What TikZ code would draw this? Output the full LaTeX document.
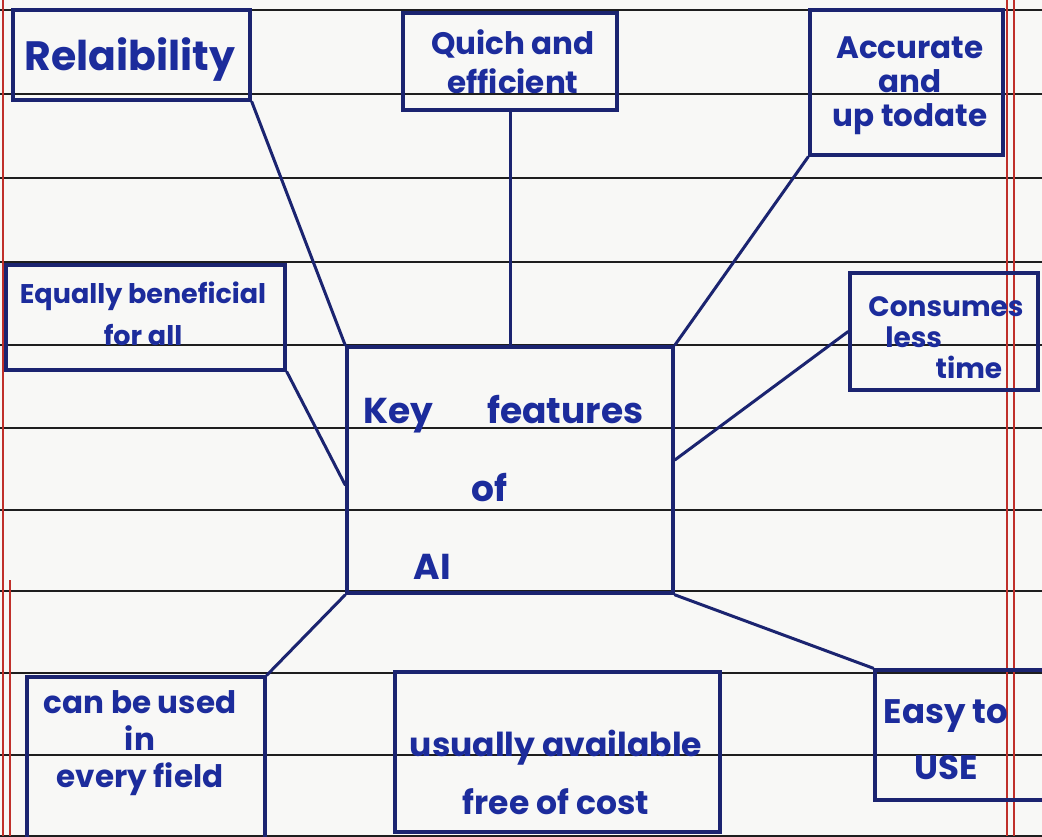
\documentclass[tikz,border=0pt]{standalone}
\usepackage{fontspec}
\setmainfont{Poppins}
\definecolor{paper}{HTML}{F8F8F6}
\definecolor{boxink}{HTML}{1B2470}
\definecolor{textink}{HTML}{1C2C9C}
\definecolor{ruleline}{HTML}{1E1E1E}
\definecolor{margin}{HTML}{C0302A}
\begin{document}
\begin{tikzpicture}[x=1pt,y=-1pt,
  rule/.style={draw=ruleline, line width=1.7pt},
  marginline/.style={draw=margin, line width=1.2pt},
  box/.style={draw=boxink, line width=3.6pt, rectangle, inner sep=0pt},
  link/.style={draw=boxink, line width=3pt, line cap=round},
  hand/.style={text=textink, align=center, inner sep=0pt},
]
\useasboundingbox (0,0) rectangle (1042,836);
\fill[paper] (0,0) rectangle (1042,836);
\begin{scope}
\clip (0,0) rectangle (1042,836);

% ruled paper
\foreach \y in {10,94,178,262,345,428,510,591,673,755,836}
  \draw[rule] (0,\y) -- (1042,\y);
\draw[marginline] (3,0) -- (3,836);
\draw[marginline] (10,580) -- (10,836);
\draw[marginline] (1007,0) -- (1007,836);
\draw[marginline] (1014,0) -- (1014,836);

% boxes
\node[box, minimum width=237pt, minimum height=90pt]  (rel)   at (131.5,55)  {};
\node[box, minimum width=214pt, minimum height=97pt]  (quick) at (510,61.5)  {};
\node[box, minimum width=193pt, minimum height=145pt] (acc)   at (906.5,82.5){};
\node[box, minimum width=188pt, minimum height=117pt] (cons)  at (944,331.5) {};
\node[box, minimum width=279pt, minimum height=105pt] (eq)    at (145.5,317.5){};
\node[box, minimum width=326pt, minimum height=246pt] (key)   at (510,470)   {};
\node[box, minimum width=238pt, minimum height=183pt] (can)   at (146,768.5) {};
\node[box, minimum width=325pt, minimum height=160pt] (usual) at (557.5,752)  {};
\node[box, minimum width=175pt, minimum height=130pt] (easy)  at (962.5,735) {};

% labels
\node[hand, font=\bfseries\fontsize{41}{44}\selectfont] (relT) at (130,60) {Relaibility};
\node[hand, font=\bfseries\fontsize{31}{39}\selectfont] (quickT) at (513,62) {Quich and\\efficient};
\node[hand, font=\bfseries\fontsize{31}{34}\selectfont] (accT) at (910,86) {Accurate\\and\\up todate};
\node[hand, font=\bfseries\fontsize{28}{31}\selectfont, align=left] (consT) at (946,338)
  {Consumes\\\hspace*{0.6em}less\\\hspace*{2.4em}time};
\node[hand, font=\bfseries\fontsize{27}{42}\selectfont] (eqT) at (143,314) {Equally beneficial\\for all};
\node[hand, font=\bfseries\fontsize{36}{78}\selectfont, align=left, anchor=west] (keyT) at (363,487)
  {Key\hspace{1.5em}features\\\hspace*{3em}of\\\hspace*{1.4em}AI};
\node[hand, font=\bfseries\fontsize{31}{37}\selectfont] (canT) at (140,743) {can be used\\in\\every field};
\node[hand, font=\bfseries\fontsize{33}{58}\selectfont] (usualT) at (556,772) {usually available\\free of cost};
\node[hand, font=\bfseries\fontsize{34}{56}\selectfont] (easyT) at (946,740) {Easy to\\USE};

% connectors
\draw[link] (rel.south east) -- (key.north west);
\draw[link] (quick.south) -- (key.north);
\draw[link] (acc.south west) -- (key.north east);
\draw[link] (cons.west) -- ([yshift=10pt]key.east);
\draw[link] (eq.south east) -- ([yshift=-15pt]key.west);
\draw[link] (key.south west) -- (can.north east);
\draw[link] (key.south east) -- (easy.north west);
\end{scope}
\end{tikzpicture}
\end{document}
